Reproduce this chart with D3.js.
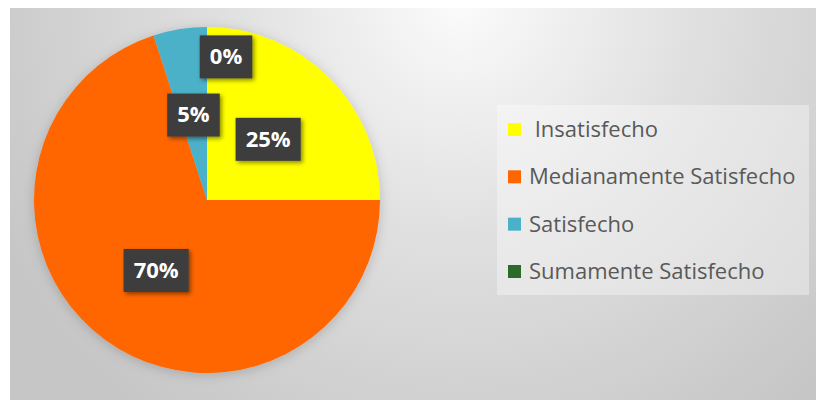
<!DOCTYPE html>
<meta charset="utf-8">
<style>
body { margin: 0; background: #fff; }
text { font-family: "Open Sans", sans-serif; }
.legend text { fill: #595959; white-space: pre; }
.lbl text { fill: #fff; font-weight: bold; }
</style>
<body>
<script src="https://d3js.org/d3.v7.min.js"></script>
<script>

// data
var categories = [" Insatisfecho", "Medianamente Satisfecho", "Satisfecho", "Sumamente Satisfecho"];
var values = [25, 70, 5, 0];
var labels = ["25%", "70%", "5%", "0%"];
var colors = ["#ffff00", "#ff6600", "#4bb1c8", "#2c6a2c"];

var W = 816, H = 401;
var cx = 207, cy = 200, R = 173;

var svg = d3.select("body").append("svg")
    .attr("width", W)
    .attr("height", H);

var defs = svg.append("defs");

// background gradient, light at the top centre
var grad = defs.append("radialGradient")
    .attr("id", "bg")
    .attr("gradientUnits", "userSpaceOnUse")
    .attr("cx", 460).attr("cy", 0).attr("r", 520);
grad.append("stop").attr("offset", "0%").attr("stop-color", "#fbfbfb");
grad.append("stop").attr("offset", "45%").attr("stop-color", "#e0e0e0");
grad.append("stop").attr("offset", "100%").attr("stop-color", "#c6c6c6");

var glow = defs.append("filter").attr("id", "glow")
    .attr("x", "-20%").attr("y", "-20%").attr("width", "140%").attr("height", "140%");
glow.append("feDropShadow")
    .attr("dx", 0).attr("dy", 2).attr("stdDeviation", 6)
    .attr("flood-color", "#000").attr("flood-opacity", 0.18);

var shadow = defs.append("filter").attr("id", "shadow")
    .attr("x", "-30%").attr("y", "-30%").attr("width", "160%").attr("height", "160%");
shadow.append("feDropShadow")
    .attr("dx", 2).attr("dy", 2).attr("stdDeviation", 2)
    .attr("flood-color", "#000").attr("flood-opacity", 0.45);

svg.append("rect")
    .attr("x", 10).attr("y", 8)
    .attr("width", W - 10).attr("height", H - 9)
    .attr("fill", "url(#bg)");

var data = categories.map(function(c, i) {
  return {name: c, value: values[i], label: labels[i], color: colors[i]};
});

var pie = d3.pie()
    .sort(null)
    .value(function(d) { return d.value; });

var arc = d3.arc().innerRadius(0).outerRadius(R);
var labelArc = d3.arc().innerRadius(R * 0.5).outerRadius(R * 0.5);

var arcs = pie(data);

var g = svg.append("g")
    .attr("transform", "translate(" + cx + "," + cy + ")");

g.append("g")
    .attr("filter", "url(#glow)")
  .selectAll("path")
    .data(arcs)
  .enter().append("path")
    .attr("d", arc)
    .attr("fill", function(d) { return d.data.color; });

// data labels: dark boxes with white text
var lbl = g.selectAll(".lbl")
    .data(arcs)
  .enter().append("g")
    .attr("class", "lbl")
    .attr("transform", function(d) {
      var p;
      if (d.value === 0) {
        // empty slice: label pushed out along its start line
        var a = d.startAngle;
        p = [Math.sin(a) * R * 0.83 + 19, -Math.cos(a) * R * 0.83];
      } else {
        p = labelArc.centroid(d);
      }
      return "translate(" + p[0] + "," + p[1] + ")";
    });

lbl.append("rect")
    .attr("filter", "url(#shadow)")
    .attr("fill", "#3d3d3d");

lbl.append("text")
    .attr("text-anchor", "middle")
    .attr("dy", "0.36em")
    .style("font-size", "22px")
    .text(function(d) { return d.data.label; });

lbl.each(function() {
  var t = d3.select(this).select("text").node().getBBox();
  d3.select(this).select("rect")
    .attr("x", -t.width / 2 - 10)
    .attr("y", -21)
    .attr("width", t.width + 20)
    .attr("height", 43);
});

// legend
var legend = svg.append("g")
    .attr("class", "legend");

legend.append("rect")
    .attr("x", 497).attr("y", 105)
    .attr("width", 312).attr("height", 190)
    .attr("fill", "#fff")
    .attr("fill-opacity", 0.35);

var ly = d3.scalePoint()
    .domain(categories)
    .range([137, 279]);

var item = legend.selectAll(".item")
    .data(data)
  .enter().append("g")
    .attr("class", "item")
    .attr("transform", function(d) { return "translate(508," + ly(d.name) + ")"; });

item.append("rect")
    .attr("x", 0).attr("y", -14)
    .attr("width", 13).attr("height", 13)
    .attr("fill", function(d) { return d.color; });

item.append("text")
    .attr("x", 21)
    .style("font-size", "22px")
    .text(function(d) { return d.name; });

</script>
</body>
